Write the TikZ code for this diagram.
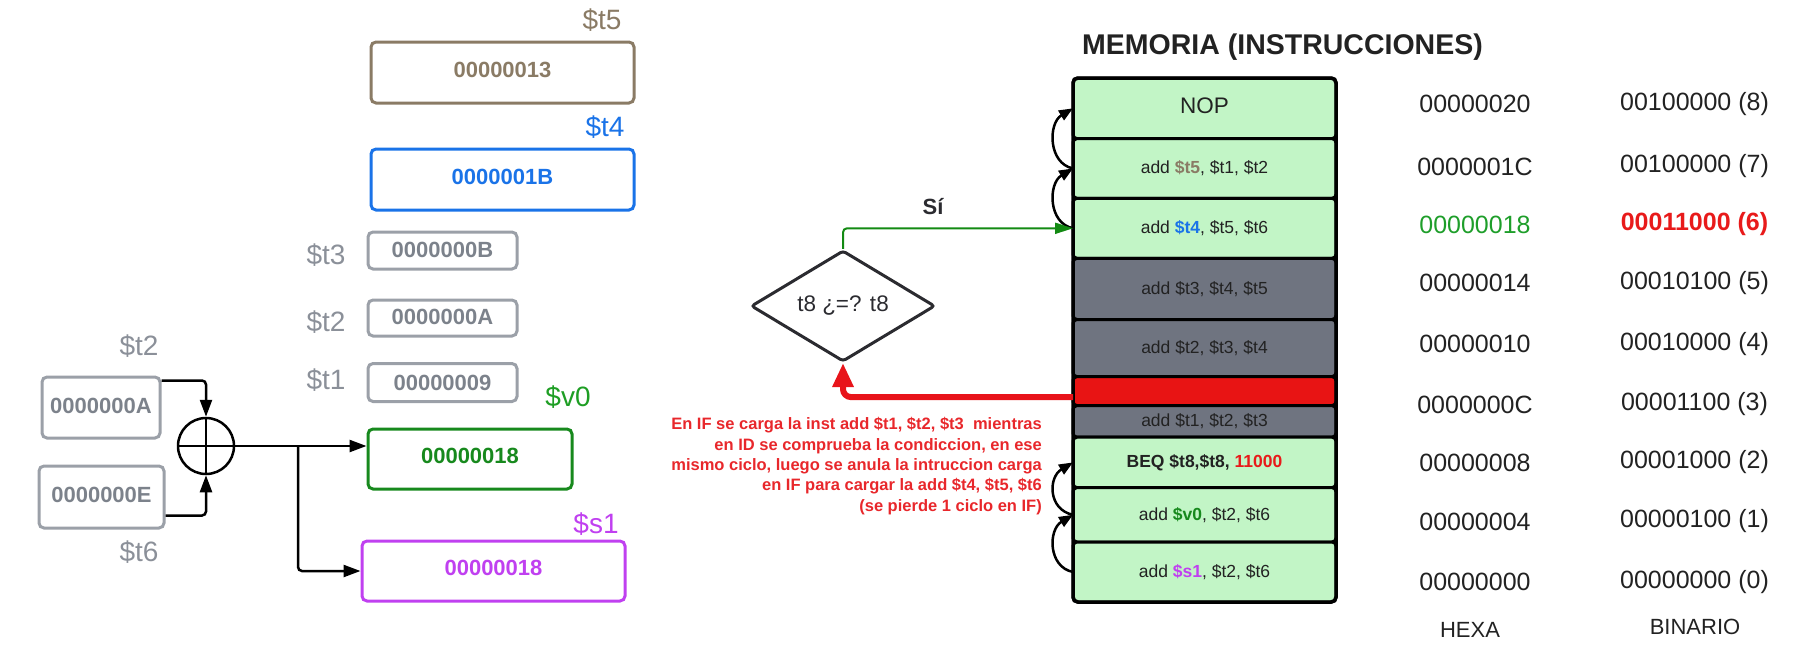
\documentclass[tikz,border=0pt]{standalone}
\usepackage{fontspec}
\setmainfont{Liberation Sans}
\usetikzlibrary{arrows.meta,shapes.geometric,calc}
\definecolor{rgray}{HTML}{9BA0A8}
\definecolor{rgraytxt}{HTML}{7C828B}
\definecolor{lgray}{HTML}{8B9099}
\definecolor{tfive}{HTML}{8A7B65}
\definecolor{tfour}{HTML}{1A73E8}
\definecolor{vzero}{HTML}{17891D}
\definecolor{vzerolbl}{HTML}{1E9E24}
\definecolor{sone}{HTML}{C040F0}
\definecolor{memgreen}{HTML}{C2F5C6}
\definecolor{memgray}{HTML}{6F7480}
\definecolor{memred}{HTML}{E81414}
\definecolor{redarr}{HTML}{E8141A}
\definecolor{redtxt}{HTML}{E8272B}
\definecolor{diastroke}{HTML}{2B2B30}
\definecolor{greenarr}{HTML}{138A13}
\definecolor{hexgreen}{HTML}{1E9E2A}
\definecolor{binred}{HTML}{E81A1A}
\definecolor{txtdark}{HTML}{222222}
\begin{document}
\begin{tikzpicture}[x=1pt,y=-1pt,
  regbox/.style={draw, line width=3pt, rounded corners=5pt, inner sep=0pt, text depth=6pt, font=\fontsize{22}{26}\selectfont\bfseries},
  reglbl/.style={inner sep=0pt, font=\fontsize{28}{32}\selectfont},
  memrow/.style={draw=black, line width=3pt, rounded corners=4pt, minimum width=263pt, inner sep=0pt, outer sep=0pt, text=txtdark, font=\fontsize{17.5}{20}\selectfont},
  addrtxt/.style={inner sep=0pt, text=txtdark, font=\fontsize{25}{30}\selectfont},
  arr/.style={line width=2.5pt, -{Triangle[length=17pt,width=12pt]}, rounded corners=4pt},
  loopar/.style={line width=2.5pt, -{Triangle[length=14pt,width=11pt]}},
]
\useasboundingbox (0,0) rectangle (1797,657);

% ---- registers
\node[regbox, draw=tfive, text=tfive, minimum width=263pt, minimum height=61pt] (t5) at (502.5,72.5) {00000013};
\node[reglbl, text=tfive] (t5l) at (602,20) {\$t5};
\node[regbox, draw=tfour, text=tfour, minimum width=263pt, minimum height=61pt] (t4) at (502.5,179.5) {0000001B};
\node[reglbl, text=tfour] (t4l) at (605,127) {\$t4};
\node[regbox, draw=rgray, text=rgraytxt, minimum width=149pt, minimum height=37pt, text depth=2pt] (t3) at (442.5,250.5) {0000000B};
\node[reglbl, text=lgray] (t3l) at (326,255) {\$t3};
\node[regbox, draw=rgray, text=rgraytxt, minimum width=149pt, minimum height=36pt, text depth=2pt] (t2) at (442.5,318) {0000000A};
\node[reglbl, text=lgray] (t2l) at (326,322) {\$t2};
\node[regbox, draw=rgray, text=rgraytxt, minimum width=149pt, minimum height=38pt, text depth=0pt] (t1) at (442.5,382.5) {00000009};
\node[reglbl, text=lgray] (t1l) at (326,380) {\$t1};
\node[regbox, draw=vzero, text=vzero, minimum width=204pt, minimum height=60pt] (v0) at (470,459) {00000018};
\node[reglbl, text=vzerolbl] (v0l) at (568,397) {\$v0};
\node[regbox, draw=sone, text=sone, minimum width=263pt, minimum height=60pt] (s1) at (493.5,571) {00000018};
\node[reglbl, text=sone] (s1l) at (596,524) {\$s1};

% ---- ALU inputs
\node[regbox, draw=rgray, text=rgraytxt, minimum width=118pt, minimum height=61pt, text depth=4pt] (ina) at (101,407.5) {0000000A};
\node[reglbl, text=lgray] (inal) at (139,346) {\$t2};
\node[regbox, draw=rgray, text=rgraytxt, minimum width=125pt, minimum height=62pt, text depth=4pt] (ine) at (101.5,497) {0000000E};
\node[reglbl, text=lgray] (inel) at (139,552) {\$t6};
\node[circle, draw, line width=2.5pt, minimum size=56pt, inner sep=0pt] (adder) at (206,446) {};
\draw[line width=2.5pt] (adder.north) -- (adder.south);
\draw[line width=2.5pt] (adder.west) -- (adder.east);
\draw[arr] ([yshift=-5pt]ina.north east) -| (adder.north);
\draw[arr] ([yshift=14pt]ine.south east) -| (adder.south);
\draw[arr] (adder.east) -- (adder.east -| v0.west);
\coordinate (br) at (298,446);
\draw[arr] (br) |- (s1.west);

% ---- memory
\node[memrow, fill=memgreen, minimum height=60.6pt, text depth=5pt] (r1) at (1204.5,108.3) {\fontsize{22.5}{26}\selectfont NOP};
\node[memrow, fill=memgreen, minimum height=59.7pt] (r2) at (1204.5,168.45) {add \textcolor{tfive}{\bfseries\$t5}, \$t1, \$t2};
\node[memrow, fill=memgreen, minimum height=60pt] (r3) at (1204.5,228.3) {add \textcolor{tfour}{\bfseries\$t4}, \$t5, \$t6};
\node[memrow, fill=memgray, minimum height=61.2pt] (r4) at (1204.5,288.9) {add \$t3, \$t4, \$t5};
\node[memrow, fill=memgray, minimum height=57.1pt] (r5) at (1204.5,348.05) {add \$t2, \$t3, \$t4};
\node[memrow, fill=memred, minimum height=29pt] (r6) at (1204.5,391.1) {};
\node[memrow, fill=memgray, minimum height=31.6pt] (r7) at (1204.5,421.4) {add \$t1, \$t2, \$t3};
\node[memrow, fill=memgreen, minimum height=50.4pt] (r8) at (1204.5,462.4) {\bfseries BEQ \$t8,\$t8, \textcolor{binred}{11000}};
\node[memrow, fill=memgreen, minimum height=54.4pt] (r9) at (1204.5,514.8) {add \textcolor{vzero}{\bfseries\$v0}, \$t2, \$t6};
\node[memrow, fill=memgreen, minimum height=60pt] (r10) at (1204.5,572) {add \textcolor{sone}{\bfseries\$s1}, \$t2, \$t6};
\draw[line width=3.5pt, rounded corners=5pt] (r1.north west) rectangle (r10.south east);

\node[inner sep=0pt, text=txtdark, font=\fontsize{28.5}{32}\selectfont\bfseries] (title) at (1282.5,47) {MEMORIA (INSTRUCCIONES)};

\draw[loopar] (r2.west) .. controls +(-25,-5) and +(-25,15) .. (r1.west);
\draw[loopar] (r3.west) .. controls +(-25,-5) and +(-25,15) .. (r2.west);
\draw[loopar] (r9.west) .. controls +(-25,-5) and +(-25,15) .. (r8.west);
\draw[loopar] (r10.west) .. controls +(-25,-5) and +(-25,15) .. (r9.west);

% ---- addresses
\node[addrtxt] (h8) at (1475,104) {00000020};
\node[addrtxt] (h7) at (1475,166.5) {0000001C};
\node[addrtxt, text=hexgreen] (h6) at (1475,224.5) {00000018};
\node[addrtxt] (h5) at (1475,283) {00000014};
\node[addrtxt] (h4) at (1475,344) {00000010};
\node[addrtxt] (h3) at (1475,404.5) {0000000C};
\node[addrtxt] (h2) at (1475,462.5) {00000008};
\node[addrtxt] (h1) at (1475,521.5) {00000004};
\node[addrtxt] (h0) at (1475,582) {00000000};
\node[addrtxt] (b8) at (1694.5,104) {00100000 (8)};
\node[addrtxt] (b7) at (1694.5,166.5) {00100000 (7)};
\node[addrtxt, text=binred, font=\fontsize{25}{30}\selectfont\bfseries] (b6) at (1694.5,224.5) {00011000 (6)};
\node[addrtxt] (b5) at (1694.5,283) {00010100 (5)};
\node[addrtxt] (b4) at (1694.5,344) {00010000 (4)};
\node[addrtxt] (b3) at (1694.5,404.5) {00001100 (3)};
\node[addrtxt] (b2) at (1694.5,462.5) {00001000 (2)};
\node[addrtxt] (b1) at (1694.5,521.5) {00000100 (1)};
\node[addrtxt] (b0) at (1694.5,582) {00000000 (0)};
\node[inner sep=0pt, text=txtdark, font=\fontsize{22}{26}\selectfont] (hexa) at (1470,630) {HEXA};
\node[inner sep=0pt, text=txtdark, font=\fontsize{22}{26}\selectfont] (bina) at (1695,627) {BINARIO};

% ---- decision
\node[diamond, draw=diastroke, line width=3pt, minimum width=184pt, minimum height=110pt, inner sep=0pt, rounded corners=3pt, text=diastroke, font=\fontsize{22.5}{26}\selectfont] (dia) at (843,306) {t8 ¿=? t8};
\draw[line width=2pt, greenarr, rounded corners=4pt, -{Triangle[length=18pt,width=11pt]}] (dia.north) |- (r3.west);
\node[inner sep=0pt, text=diastroke, font=\fontsize{22}{26}\selectfont\bfseries] (si) at (933,207) {Sí};
\draw[line width=6pt, redarr, rounded corners=8pt, -{Triangle[length=24pt,width=20pt]}] ([yshift=-6pt]r6.west) -| (dia.south);
\node[anchor=east, align=right, inner sep=0pt, text=redtxt, font=\fontsize{16.5}{20.3}\selectfont\bfseries] (note) at (1042,466) {En IF se carga la inst add \$t1, \$t2, \$t3\ \ mientras\\ en ID se comprueba la condiccion, en ese\\ mismo ciclo, luego se anula la intruccion carga\\ en IF para cargar la add \$t4, \$t5, \$t6\\ (se pierde 1 ciclo en IF)};
\end{tikzpicture}
\end{document}
